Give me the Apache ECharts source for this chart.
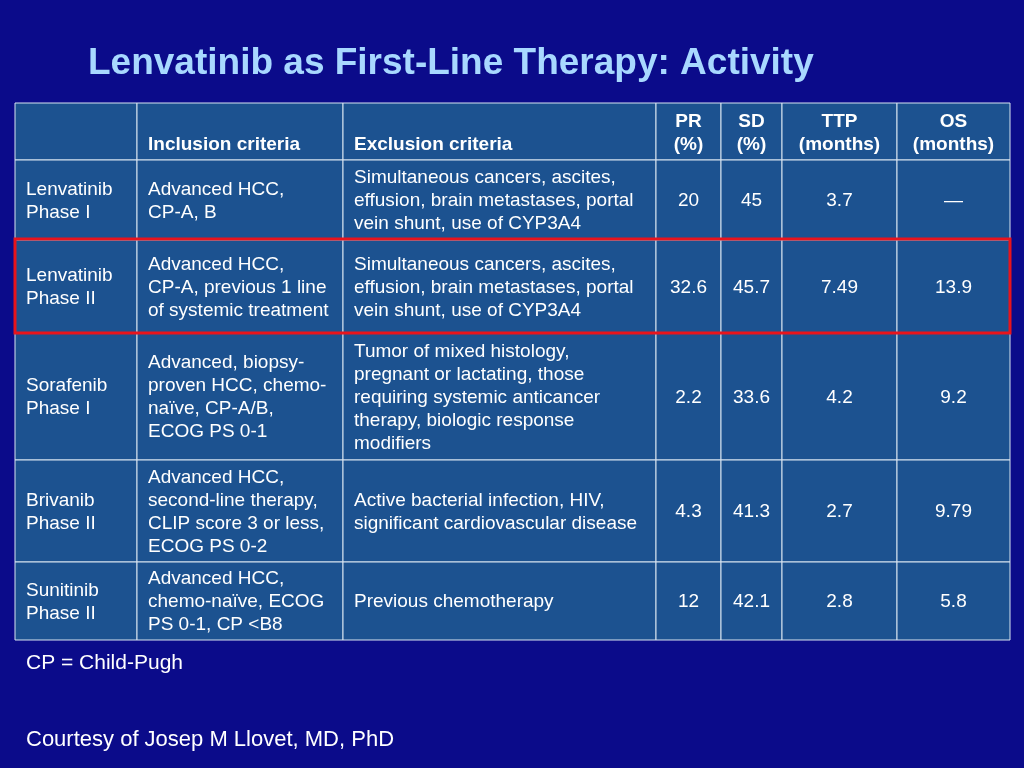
<!DOCTYPE html>
<html style="height: 100%">
<head>
    <meta charset="utf-8">
</head>
<body style="height: 100%; margin: 0; background: #0b0b8a">
    <div id="container" style="height: 100%"></div>
    <script type="text/javascript" src="https://cdn.jsdelivr.net/npm/echarts@6/dist/echarts.min.js"></script>
    <script type="text/javascript">
        var title = 'Lenvatinib as First-Line Therapy: Activity';
        var headers = ['', 'Inclusion criteria', 'Exclusion criteria', 'PR\n(%)', 'SD\n(%)', 'TTP\n(months)', 'OS\n(months)'];
        var drugs = ['Lenvatinib\nPhase I', 'Lenvatinib\nPhase II', 'Sorafenib\nPhase I', 'Brivanib\nPhase II', 'Sunitinib\nPhase II'];
        var inclusion = [
            'Advanced HCC,\nCP-A, B',
            'Advanced HCC,\nCP-A, previous 1 line\nof systemic treatment',
            'Advanced, biopsy-\nproven HCC, chemo-\nnaïve, CP-A/B,\nECOG PS 0-1',
            'Advanced HCC,\nsecond-line therapy,\nCLIP score 3 or less,\nECOG PS 0-2',
            'Advanced HCC,\nchemo-naïve, ECOG\nPS 0-1, CP <B8'
        ];
        var exclusion = [
            'Simultaneous cancers, ascites,\neffusion, brain metastases, portal\nvein shunt, use of CYP3A4',
            'Simultaneous cancers, ascites,\neffusion, brain metastases, portal\nvein shunt, use of CYP3A4',
            'Tumor of mixed histology,\npregnant or lactating, those\nrequiring systemic anticancer\ntherapy, biologic response\nmodifiers',
            'Active bacterial infection, HIV,\nsignificant cardiovascular disease',
            'Previous chemotherapy'
        ];
        var pr = ['20', '32.6', '2.2', '4.3', '12'];
        var sd = ['45', '45.7', '33.6', '41.3', '42.1'];
        var ttp = ['3.7', '7.49', '4.2', '2.7', '2.8'];
        var os = ['—', '13.9', '9.2', '9.79', '5.8'];
        var footnote = 'CP = Child-Pugh';
        var courtesy = 'Courtesy of Josep M Llovet, MD, PhD';

        var colX = [15, 137, 343, 656, 721, 782, 897, 1010];
        var rowY = [103, 160, 240, 333, 460, 562, 640];
        var highlightRow = 1;
        var font = '19px "Liberation Sans", Arial, sans-serif';
        var boldFont = 'bold 19px "Liberation Sans", Arial, sans-serif';

        var dom = document.getElementById("container");
        var myChart = echarts.init(dom);
        var els = [];

        els.push({ type: 'text', x: 88, y: 64, style: { text: title, fill: '#a8d8ff',
            font: 'bold 37px "Liberation Sans", Arial, sans-serif', verticalAlign: 'middle' } });

        // cells
        for (var r = 0; r < rowY.length - 1; r++) {
            for (var c = 0; c < colX.length - 1; c++) {
                els.push({ type: 'rect', shape: { x: colX[c], y: rowY[r], width: colX[c + 1] - colX[c], height: rowY[r + 1] - rowY[r] },
                    style: { fill: '#1c5290', stroke: '#d8e4f0', lineWidth: 1 } });
            }
        }

        function cell(txt, c, r, bold, header) {
            var left = c < 3;
            var x = left ? colX[c] + 11 : (colX[c] + colX[c + 1]) / 2;
            var y = header ? rowY[r + 1] - 4 : (rowY[r] + rowY[r + 1]) / 2 + 1;
            els.push({ type: 'text', x: x, y: y, z: 10, style: { text: txt, fill: '#ffffff', font: bold ? boldFont : font,
                align: left ? 'left' : 'center', verticalAlign: header ? 'bottom' : 'middle', lineHeight: 23 } });
        }

        headers.forEach(function (h, c) { if (h) cell(h, c, 0, true, true); });
        var cols = [drugs, inclusion, exclusion, pr, sd, ttp, os];
        for (var i = 0; i < drugs.length; i++) {
            cols.forEach(function (col, c) { cell(col[i], c, i + 1, false, false); });
        }

        els.push({ type: 'rect', z: 20, shape: { x: colX[0], y: rowY[highlightRow + 1] - 1, width: colX[7] - colX[0],
            height: rowY[highlightRow + 2] - rowY[highlightRow + 1] + 1 },
            style: { fill: 'none', stroke: '#e8141c', lineWidth: 3 } });

        els.push({ type: 'text', x: 26, y: 663, style: { text: footnote, fill: '#ffffff', font: '21px "Liberation Sans", Arial, sans-serif', verticalAlign: 'middle' } });
        els.push({ type: 'text', x: 26, y: 740, style: { text: courtesy, fill: '#ffffff', font: '22px "Liberation Sans", Arial, sans-serif', verticalAlign: 'middle' } });

        option = {
            backgroundColor: '#0b0b8a',
            graphic: { elements: els }
        };
        myChart.setOption(option, true);
    </script>
</body>
</html>
